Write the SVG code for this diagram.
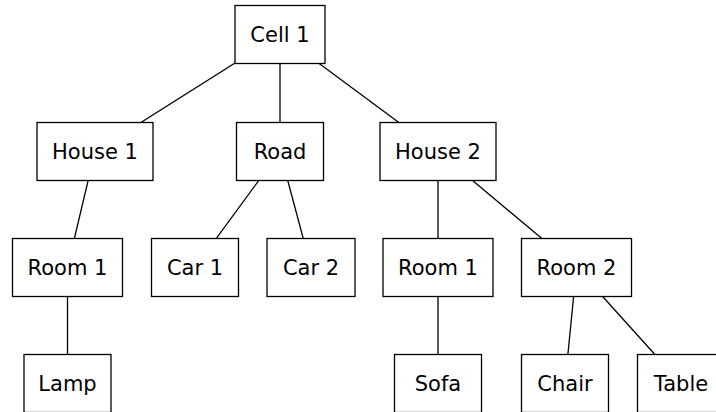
<svg xmlns="http://www.w3.org/2000/svg" width="716" height="412" viewBox="0 0 716 412">
  <style>
    .edge { stroke: #000; stroke-width: 1.3; fill: none; }
    .box { fill: #fff; stroke: #000; stroke-width: 1.3; }
    .lbl { font-family: "DejaVu Sans", sans-serif; font-size: 21px; text-anchor: middle; fill: #000; }
  </style>
  <rect width="716" height="412" fill="#fff"/>
  <!-- connectors: drawn centre to centre, boxes paint over the ends -->
  <g id="edges">
    <line class="edge" x1="280" y1="34.5" x2="95" y2="151.5"/>
    <line class="edge" x1="280" y1="34.5" x2="280" y2="151.5"/>
    <line class="edge" x1="280" y1="34.5" x2="438" y2="151.5"/>
    <line class="edge" x1="95" y1="151.5" x2="67.5" y2="267.5"/>
    <line class="edge" x1="280" y1="151.5" x2="195" y2="267.5"/>
    <line class="edge" x1="280" y1="151.5" x2="311" y2="267.5"/>
    <line class="edge" x1="438" y1="151.5" x2="438" y2="267.5"/>
    <line class="edge" x1="438" y1="151.5" x2="576.5" y2="267.5"/>
    <line class="edge" x1="67.5" y1="267.5" x2="67.5" y2="383.5"/>
    <line class="edge" x1="438" y1="267.5" x2="438" y2="383.5"/>
    <line class="edge" x1="576.5" y1="267.5" x2="565" y2="383.5"/>
    <line class="edge" x1="576.5" y1="267.5" x2="681" y2="383.5"/>
  </g>
  <g id="cell1"><rect class="box" x="235" y="5.5" width="90" height="58"/><text class="lbl" x="280" y="42.1">Cell 1</text></g>
  <g id="house1"><rect class="box" x="37" y="122.5" width="116" height="58"/><text class="lbl" x="95" y="159.1">House 1</text></g>
  <g id="road"><rect class="box" x="236.5" y="122.5" width="87" height="58"/><text class="lbl" x="280" y="159.1">Road</text></g>
  <g id="house2"><rect class="box" x="380" y="122.5" width="116" height="58"/><text class="lbl" x="438" y="159.1">House 2</text></g>
  <g id="room1a"><rect class="box" x="12.5" y="238.5" width="110" height="58"/><text class="lbl" x="67.5" y="275.1">Room 1</text></g>
  <g id="car1"><rect class="box" x="151.5" y="238.5" width="87" height="58"/><text class="lbl" x="195" y="275.1">Car 1</text></g>
  <g id="car2"><rect class="box" x="267" y="238.5" width="88" height="58"/><text class="lbl" x="311" y="275.1">Car 2</text></g>
  <g id="room1b"><rect class="box" x="383" y="238.5" width="110" height="58"/><text class="lbl" x="438" y="275.1">Room 1</text></g>
  <g id="room2"><rect class="box" x="521.5" y="238.5" width="110" height="58"/><text class="lbl" x="576.5" y="275.1">Room 2</text></g>
  <g id="lamp"><rect class="box" x="24" y="354.5" width="87" height="58"/><text class="lbl" x="67.5" y="391.1">Lamp</text></g>
  <g id="sofa"><rect class="box" x="394.5" y="354.5" width="87" height="58"/><text class="lbl" x="438" y="391.1">Sofa</text></g>
  <g id="chair"><rect class="box" x="521.5" y="354.5" width="87" height="58"/><text class="lbl" x="565" y="391.1">Chair</text></g>
  <g id="table"><rect class="box" x="637.5" y="354.5" width="87" height="58"/><text class="lbl" x="681" y="391.1">Table</text></g>
</svg>
